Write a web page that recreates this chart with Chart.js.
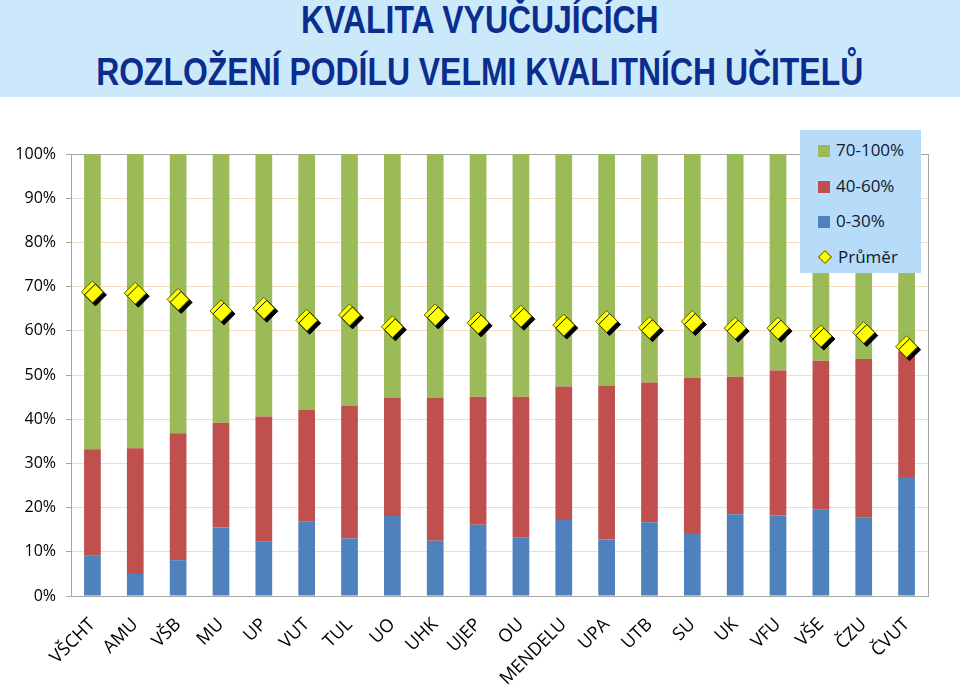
<!DOCTYPE html>
<html>
<head>
<meta charset="utf-8">
<script src="https://cdn.jsdelivr.net/npm/chart.js@4"></script>
<style>
  body { margin: 0; width: 960px; height: 697px; position: relative; overflow: hidden; background: #fff; }
  #banner { position: absolute; left: 0; top: 0; width: 960px; height: 97px; background: #cbe9fb; }
  .t { position: absolute; left: 0; width: 960px; text-align: center; font: bold 38px "Liberation Sans Narrow", "Liberation Sans", Arial, sans-serif; line-height: 38px; color: #0b2d8e; white-space: nowrap; }
  .t span { display: inline-block; transform-origin: center; }
  #wrap { position: absolute; left: 0; top: 97px; width: 960px; height: 600px; }
  #legend { position: absolute; left: 800px; top: 130px; width: 121px; height: 143px; background: #b7dcf9; font: 17px "Open Sans", sans-serif; color: #111830; }
  .li { position: absolute; left: 18px; height: 20px; line-height: 20px; }
  .sw { display: inline-block; width: 12px; height: 12px; vertical-align: -1px; margin-right: 6px; }
  .dm { display: inline-block; width: 8px; height: 8px; background: #ffff00; border: 1px solid #6b6b00; transform: rotate(45deg); margin: 0 8px 0 2px; vertical-align: 1px; }
</style>
</head>
<body>
<div id="banner"></div>
<div class="t" style="top:1px"><span id="t1">KVALITA VYUČUJÍCÍCH</span></div>
<div class="t" style="top:53px"><span id="t2">ROZLOŽENÍ PODÍLU VELMI KVALITNÍCH UČITELŮ</span></div>
<div id="wrap"><canvas id="myChart"></canvas></div>
<div id="legend">
  <div class="li" style="top:10px"><span class="sw" style="background:#9bbb59"></span>70-100%</div>
  <div class="li" style="top:46px"><span class="sw" style="background:#c0504d"></span>40-60%</div>
  <div class="li" style="top:81px"><span class="sw" style="background:#4f81bd"></span>0-30%</div>
  <div class="li" style="top:117px"><span class="dm"></span>Průměr</div>
</div>
<script>
const schools = ['VŠCHT', 'AMU', 'VŠB', 'MU', 'UP', 'VUT', 'TUL', 'UO', 'UHK', 'UJEP', 'OU', 'MENDELU', 'UPA', 'UTB', 'SU', 'UK', 'VFU', 'VŠE', 'ČZU', 'ČVUT'];
const low = [9.1, 5.0, 8.1, 15.5, 12.3, 16.8, 13.0, 18.1, 12.5, 16.1, 13.3, 17.2, 12.8, 16.7, 14.0, 18.5, 18.2, 19.5, 17.7, 26.9];
const mid = [24.1, 28.4, 28.7, 23.7, 28.3, 25.3, 30.1, 26.8, 32.4, 29.0, 31.8, 30.2, 34.8, 31.6, 35.4, 31.1, 32.8, 33.7, 35.9, 28.4];
const high = [66.8, 66.6, 63.2, 60.8, 59.4, 57.9, 56.9, 55.1, 55.1, 54.9, 54.9, 52.6, 52.4, 51.7, 50.6, 50.4, 49.0, 46.8, 46.4, 44.7];
const average = [68.8, 68.5, 67.1, 64.5, 65.1, 62.4, 63.6, 60.9, 63.6, 61.8, 63.3, 61.3, 62.1, 60.7, 62.1, 60.6, 60.6, 58.8, 59.6, 56.4];
const yTicks = [0, 10, 20, 30, 40, 50, 60, 70, 80, 90, 100];

// squeeze the title to the width of the original
const t2 = document.getElementById('t2');
const s = 767 / t2.getBoundingClientRect().width;
document.getElementById('t1').style.transform = 'scaleX(' + s + ')';
t2.style.transform = 'scaleX(' + s + ')';

// black drop shadow under the diamonds
const shadowPlugin = {
    id: 'shadow',
    beforeDatasetDraw(chart, args) {
        if (chart.data.datasets[args.index].type !== 'line') return;
        const c = chart.ctx;
        c.save();
        c.shadowColor = '#000';
        c.shadowOffsetX = 3;
        c.shadowOffsetY = 3;
        c.shadowBlur = 0;
    },
    afterDatasetDraw(chart, args) {
        if (chart.data.datasets[args.index].type !== 'line') return;
        chart.ctx.restore();
    }
};

const ctx = document.getElementById('myChart').getContext('2d');
new Chart(ctx, {
    data: {
        labels: schools,
        datasets: [
            { type: 'line', label: 'Průměr', data: average, showLine: false, pointStyle: 'rectRot', pointRadius: 11, pointHoverRadius: 11,
              backgroundColor: '#ffff00', borderColor: '#5c5c00', borderWidth: 1, order: 0 },
            { type: 'bar', label: '0-30%', data: low, backgroundColor: '#4f81bd', order: 1 },
            { type: 'bar', label: '40-60%', data: mid, backgroundColor: '#c0504d', order: 1 },
            { type: 'bar', label: '70-100%', data: high, backgroundColor: '#9bbb59', order: 1 }
        ]
    },
    options: {
        responsive: true,
        maintainAspectRatio: false,
        animation: false,
        layout: { padding: { top: 57, right: 32, left: 0, bottom: 0 } },
        datasets: { bar: { barPercentage: 0.39, categoryPercentage: 1 } },
        plugins: { legend: { display: false }, tooltip: { enabled: false } },
        scales: {
            x: {
                stacked: true,
                grid: { display: false },
                border: { color: '#a6a6a6' },
                ticks: { minRotation: 45, maxRotation: 45, autoSkip: false, padding: 10, color: '#000',
                         font: { family: 'Open Sans', size: 18 } },
                afterFit(scale) { scale.height = 101; }
            },
            y: {
                stacked: true,
                min: 0, max: 100,
                afterBuildTicks(scale) { scale.ticks = yTicks.map(v => ({ value: v })); },
                grid: { color: c => c.tick && c.tick.value === 100 ? '#a6a6a6' : '#f3dcc0', tickColor: '#a6a6a6', tickLength: 5 },
                border: { color: '#a6a6a6' },
                ticks: { color: '#000', padding: 10, font: { family: 'Open Sans', size: 16 }, callback: v => v + '%' },
                afterFit(scale) { scale.width = 71; }
            },
            y2: {
                position: 'right',
                min: 0, max: 100,
                grid: { display: false },
                ticks: { display: false },
                border: { color: '#a6a6a6' },
                afterFit(scale) { scale.width = 0; }
            }
        }
    },
    plugins: [shadowPlugin]
});
</script>
</body>
</html>
